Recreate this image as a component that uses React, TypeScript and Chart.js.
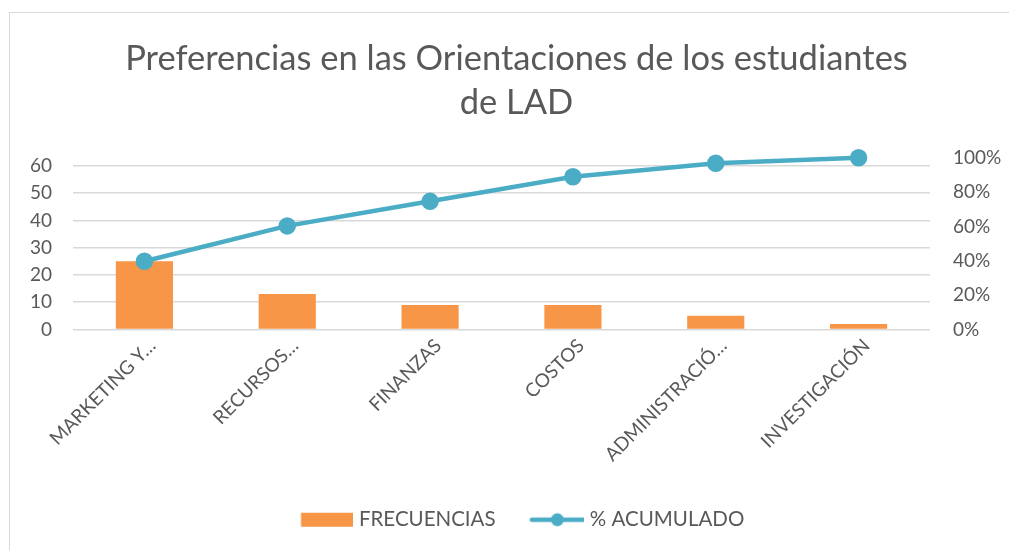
import React, { useEffect, useRef } from "react";
import { Chart, registerables } from "chart.js";

Chart.register(...registerables);

const categories = [
  "MARKETING Y…",
  "RECURSOS…",
  "FINANZAS",
  "COSTOS",
  "ADMINISTRACIÓ…",
  "INVESTIGACIÓN",
];
const frecuencias = [25, 13, 9, 9, 5, 2];
const acumulado = [0.397, 0.603, 0.746, 0.889, 0.968, 1.0];
const leftTicksMax = 63;
const titleLines = ["Preferencias en las Orientaciones de los estudiantes", "de LAD"];

const BAR = "#F79646";
const LINE = "#4BACC6";
const TEXT = "#595959";
const GRID = "#D9D9D9";
const FONT = "Lato, 'Noto Sans', sans-serif";
const TICK = 19;
const LEG = 20.5;
const TITLE_SIZE = 34.5;
const TITLE_LH = 1.3;
const TITLE_PAD_TOP = 23;
const TITLE_SHIFT_X = 7;

// legend icons: canvas wider than the box by 2*E, drawn centred on the box
const BOXW = 74;
const E = 4;

function makeBarIcon() {
  const c = document.createElement("canvas");
  c.width = BOXW + 2 * E;
  c.height = 16;
  const ctx = c.getContext("2d")!;
  ctx.fillStyle = BAR;
  const right = BOXW + LEG / 2 - 6 + E;
  ctx.fillRect(right - 52, 1, 52, 14);
  return c;
}
function makeLineIcon() {
  const c = document.createElement("canvas");
  c.width = BOXW + 2 * E;
  c.height = 16;
  const ctx = c.getContext("2d")!;
  const right = BOXW + LEG / 2 - 5 + E;
  const left = right - 55;
  ctx.strokeStyle = LINE;
  ctx.lineWidth = 4.5;
  ctx.lineCap = "round";
  ctx.beginPath();
  ctx.moveTo(left + 2, 8);
  ctx.lineTo(right - 2, 8);
  ctx.stroke();
  ctx.fillStyle = LINE;
  ctx.beginPath();
  ctx.arc((left + right) / 2, 8, 6.5, 0, Math.PI * 2);
  ctx.fill();
  return c;
}

const titleDrawer = {
  id: "titleDrawer",
  afterDraw(chart: any) {
    const ctx = chart.ctx;
    const tb = chart.titleBlock;
    if (!tb) return;
    const lh = TITLE_SIZE * TITLE_LH;
    ctx.save();
    ctx.fillStyle = TEXT;
    ctx.font = `normal ${TITLE_SIZE}px ${FONT}`;
    ctx.textAlign = "center";
    ctx.textBaseline = "middle";
    const cx = (tb.left + tb.right) / 2 + TITLE_SHIFT_X;
    titleLines.forEach((t, i) => {
      ctx.fillText(t, cx, tb.top + TITLE_PAD_TOP + lh * (i + 0.5));
    });
    ctx.restore();
  },
};

export default function App() {
  const ref = useRef<HTMLCanvasElement | null>(null);
  useEffect(() => {
    if (!ref.current) return;
    const barIcon = makeBarIcon();
    const lineIcon = makeLineIcon();
    const chart = new Chart(ref.current, {
      type: "bar",
      data: {
        labels: categories,
        datasets: [
          {
            type: "bar",
            label: "FRECUENCIAS",
            data: frecuencias,
            backgroundColor: BAR,
            yAxisID: "y",
            order: 2,
            categoryPercentage: 1,
            barPercentage: 0.4,
          },
          {
            type: "line",
            label: "% ACUMULADO",
            data: acumulado,
            borderColor: LINE,
            backgroundColor: LINE,
            borderWidth: 4.5,
            pointRadius: 6.5,
            pointBackgroundColor: LINE,
            pointBorderColor: LINE,
            tension: 0,
            clip: false,
            yAxisID: "y1",
            order: 1,
          } as any,
        ],
      },
      plugins: [titleDrawer],
      options: {
        animation: false,
        responsive: false,
        maintainAspectRatio: false,
        layout: { padding: { left: 0, right: 0, top: 0, bottom: 10 } },
        plugins: {
          title: {
            display: true,
            text: titleLines,
            color: "rgba(0,0,0,0)",
            font: { family: FONT, size: TITLE_SIZE, weight: "normal", lineHeight: TITLE_LH },
            padding: { top: TITLE_PAD_TOP, bottom: 32 },
          },
          legend: {
            position: "bottom",
            labels: {
              color: TEXT,
              font: { family: FONT, size: LEG },
              usePointStyle: true,
              pointStyleWidth: BOXW,
              padding: 10,
              generateLabels: (ch: any) =>
                ch.data.datasets.map((ds: any, i: number) => ({
                  text: ds.label,
                  datasetIndex: i,
                  pointStyle: i === 0 ? barIcon : lineIcon,
                  fillStyle: "transparent",
                  strokeStyle: "transparent",
                  lineWidth: 0,
                  fontColor: TEXT,
                  hidden: false,
                })),
            },
          },
          tooltip: { enabled: false },
        },
        scales: {
          x: {
            grid: { display: false, drawTicks: false },
            border: { display: false },
            ticks: {
              color: TEXT,
              font: { family: FONT, size: TICK },
              minRotation: 45,
              maxRotation: 45,
              autoSkip: false,
              padding: 5,
              labelOffset: 8,
            },
            afterFit: (s: any) => {
              s.height = 170;
            },
          },
          y: {
            position: "left",
            min: 0,
            max: leftTicksMax,
            grid: { color: GRID, lineWidth: 1.5, drawTicks: false },
            border: { display: false },
            ticks: {
              stepSize: 10,
              includeBounds: false,
              color: TEXT,
              font: { family: FONT, size: TICK },
              padding: 21,
            },
            afterFit: (s: any) => {
              s.width = 63;
            },
          },
          y1: {
            position: "right",
            min: 0,
            max: 1,
            grid: { display: false, drawTicks: false },
            border: { display: false },
            ticks: {
              stepSize: 0.2,
              color: TEXT,
              font: { family: FONT, size: TICK },
              padding: 23,
              callback: (v: any) => Math.round(Number(v) * 100) + "%",
            },
            afterFit: (s: any) => {
              s.width = 79;
            },
          },
        },
      },
    });
    return () => chart.destroy();
  }, []);
  return (
    <div
      style={{
        position: "absolute",
        left: 9,
        top: 12,
        width: 1000,
        height: 538,
        boxSizing: "border-box",
        borderLeft: "1px solid #D9D9D9",
        borderTop: "1px solid #D9D9D9",
        background: "#fff",
      }}
    >
      <canvas ref={ref} width={999} height={537} style={{ display: "block" }} />
    </div>
  );
}
